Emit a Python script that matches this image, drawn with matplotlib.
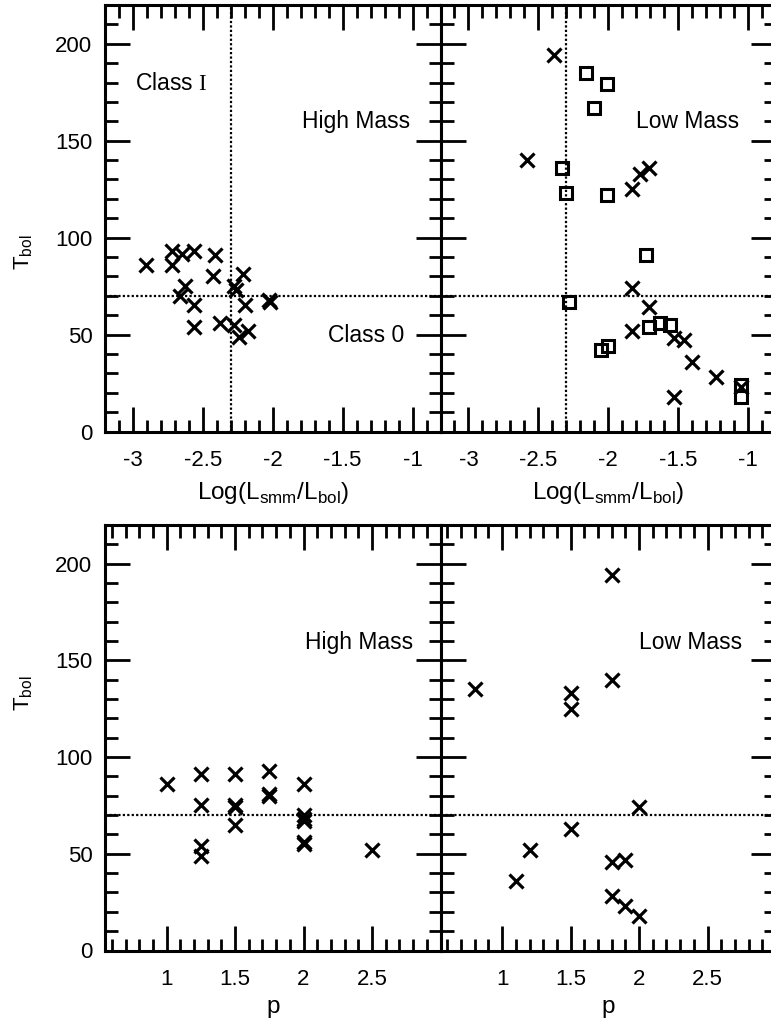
import numpy as np
import matplotlib
matplotlib.use("Agg")
import matplotlib.pyplot as plt
from matplotlib.ticker import FixedLocator

plt.rcParams['font.family'] = ['Liberation Sans', 'DejaVu Sans']
plt.rcParams['mathtext.fontset'] = 'custom'
plt.rcParams['mathtext.rm'] = 'Liberation Serif'

# ---------------- data ----------------
# High mass: log(Lsmm/Lbol) vs Tbol
hm_logl = [-2.91, -2.72, -2.72, -2.65, -2.56, -2.41, -2.43, -2.63, -2.66, -2.56, -2.56,
           -2.38, -2.28, -2.26, -2.21, -2.20, -2.28, -2.24, -2.18, -2.03, -2.02]
hm_tbol_l = [86, 93, 86, 91.5, 93, 91, 80, 75, 70, 65, 54,
             56, 75, 73, 81, 65, 55, 49, 52, 68, 67]

# Low mass crosses: log(Lsmm/Lbol) vs Tbol
lmx_logl = [-2.39, -2.58, -1.83, -1.77, -1.71, -1.83, -1.71, -1.83, -1.53, -1.46,
            -1.40, -1.23, -1.53, -1.05]
lmx_tbol = [194, 140, 125, 133, 136, 74, 64, 52, 48, 47, 36, 28, 18, 23]

# Low mass squares: log(Lsmm/Lbol) vs Tbol
lms_logl = [-2.16, -2.01, -2.10, -2.33, -2.30, -2.01, -1.73, -2.28, -1.71, -1.63,
            -1.56, -2.05, -2.00, -1.05, -1.05]
lms_tbol = [185, 179, 167, 136, 123, 122, 91, 67, 54, 56, 55, 42, 44, 24, 18]

# High mass: p vs Tbol
hm_p = [1.0, 1.25, 1.25, 1.25, 1.25, 1.5, 1.5, 1.5, 1.5, 1.75, 1.75, 1.75,
        2.0, 2.0, 2.0, 2.0, 2.0, 2.0, 2.5]
hm_tbol_p = [86, 91, 75, 54, 49, 91, 75, 74, 65, 93, 81, 80,
             86, 70, 68, 67, 56, 55, 52]

# Low mass: p vs Tbol
lm_p = [1.8, 0.8, 1.5, 1.5, 1.8, 2.0, 1.5, 1.2, 1.1, 1.8, 1.9, 1.8, 1.9, 2.0]
lm_tbol = [194, 135, 133, 125, 140, 74, 63, 52, 36, 46, 47, 28, 23, 18]

tbol_div = 70
logl_div = -2.3

# ---------------- layout ----------------
W, H = 771, 1026
fig = plt.figure(figsize=(W / 100, H / 100), dpi=100)

def ax_at(x0, x1, ytop, ybot):
    return fig.add_axes([x0 / W, (H - ybot) / H, (x1 - x0) / W, (ybot - ytop) / H])

ax_tl = ax_at(105, 440.5, 5, 431.5)
ax_tr = ax_at(440.5, 776, 5, 431.5)
ax_bl = ax_at(105, 440.5, 525, 950.5)
ax_br = ax_at(440.5, 776, 525, 950.5)

lw = 2.2
xkw = dict(marker='x', ms=10.5, mew=2.3, color='black', ls='none')
skw = dict(marker='s', ms=9, mew=2.2, mfc='none', mec='black', ls='none')
dot = dict(color='black', lw=1.6, ls=(0, (1, 1.0)))

for ax in (ax_tl, ax_tr, ax_bl, ax_br):
    ax.set_ylim(0, 220)
    ax.yaxis.set_major_locator(FixedLocator([0, 50, 100, 150, 200]))
    ax.yaxis.set_minor_locator(FixedLocator(list(range(10, 220, 10))))
    for s in ax.spines.values():
        s.set_linewidth(lw)
    ax.tick_params(which='both', direction='in', top=True, right=True,
                   width=2.0, labelsize=16)
    ax.tick_params(which='major', length=18)
    ax.tick_params(which='minor', length=9)
    ax.tick_params(axis='x', which='major', pad=13)
    ax.tick_params(axis='y', which='major', pad=9)
    ax.axhline(tbol_div, **dot)

for ax in (ax_tl, ax_tr):
    ax.set_xlim(-3.2, -0.8)
    ax.xaxis.set_major_locator(FixedLocator([-3, -2.5, -2, -1.5, -1]))
    ax.xaxis.set_minor_locator(FixedLocator([round(-3.1 + 0.1 * i, 1) for i in range(23)]))
    ax.set_xticklabels(['-3', '-2.5', '-2', '-1.5', '-1'])
    ax.axvline(logl_div, **dot)
    ax.set_xlabel(r'Log(L$_{\mathregular{smm}}$/L$_{\mathregular{bol}}$)', fontsize=17.5, labelpad=7)

for ax in (ax_bl, ax_br):
    ax.set_xlim(0.55, 3.0)
    ax.xaxis.set_major_locator(FixedLocator([1, 1.5, 2, 2.5]))
    ax.xaxis.set_minor_locator(FixedLocator([round(0.6 + 0.1 * i, 1) for i in range(24)]))
    ax.set_xticklabels(['1', '1.5', '2', '2.5'])
    ax.set_xlabel('p', fontsize=17.5, labelpad=5)

for ax in (ax_tr, ax_br):
    ax.set_yticklabels([])

# y-axis titles placed as in the reference
fig.text(24 / W, 1 - 252 / H, r'T$_{\mathregular{bol}}$', rotation=90,
         ha='center', va='center', fontsize=16)
fig.text(24 / W, 1 - 693 / H, r'T$_{\mathregular{bol}}$', rotation=90,
         ha='center', va='center', fontsize=16)

ax_tl.plot(hm_logl, hm_tbol_l, **xkw)
ax_tr.plot(lmx_logl, lmx_tbol, **xkw)
ax_tr.plot(lms_logl, lms_tbol, **skw)
ax_bl.plot(hm_p, hm_tbol_p, **xkw)
ax_br.plot(lm_p, lm_tbol, **xkw)

tkw = dict(fontsize=16.5, va='center')
ax_tl.text(0.09, 0.817, r'Class $\mathrm{I}$', ha='left', transform=ax_tl.transAxes, **tkw)
ax_tl.text(0.908, 0.726, 'High Mass', ha='right', transform=ax_tl.transAxes, **tkw)
ax_tl.text(0.893, 0.226, 'Class 0', ha='right', transform=ax_tl.transAxes, **tkw)
ax_tr.text(0.889, 0.726, 'Low Mass', ha='right', transform=ax_tr.transAxes, **tkw)
ax_bl.text(0.918, 0.723, 'High Mass', ha='right', transform=ax_bl.transAxes, **tkw)
ax_br.text(0.899, 0.723, 'Low Mass', ha='right', transform=ax_br.transAxes, **tkw)

fig.savefig('out.png', dpi=100)
